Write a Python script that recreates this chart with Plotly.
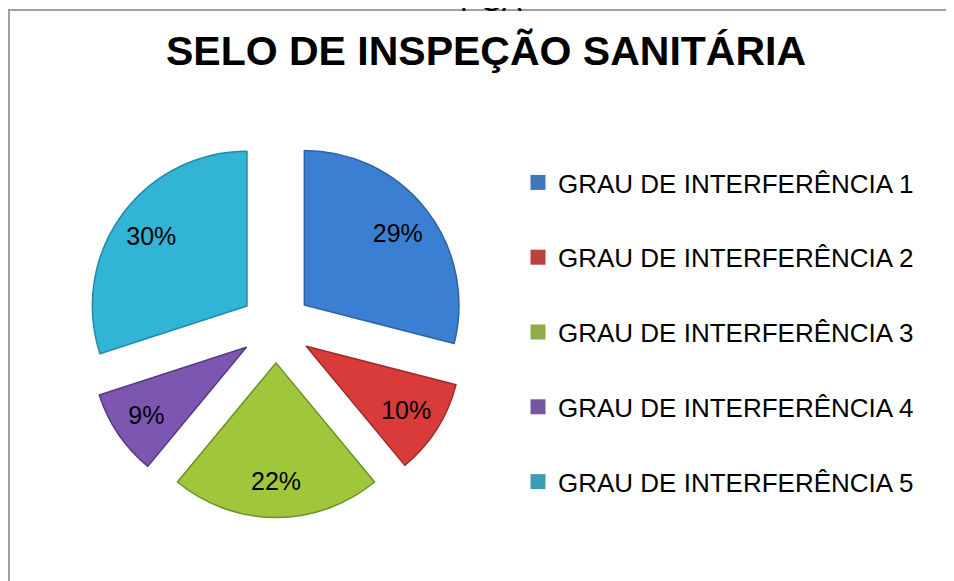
import plotly.graph_objects as go

categories = ["GRAU DE INTERFERÊNCIA 1", "GRAU DE INTERFERÊNCIA 2", "GRAU DE INTERFERÊNCIA 3",
              "GRAU DE INTERFERÊNCIA 4", "GRAU DE INTERFERÊNCIA 5"]
values = [29, 10, 22, 9, 30]
slice_colors = ["#3b7fd2", "#d93a3a", "#a0c63c", "#7d56b1", "#31b4d6"]
edge_colors = ["#2d62a6", "#9c2b2b", "#6f8f2c", "#573b80", "#238aa6"]
legend_colors = ["#4277bc", "#bb4040", "#8fab4a", "#74579e", "#3d9db5"]
title_text = "SELO DE INSPEÇÃO SANITÁRIA"
top_text = "PCA"

FONT = "Liberation Sans, Arial, sans-serif"
OFF = 8                      # default page margin of the html body
W, H = 954 - OFF, 581 - OFF  # figure size that fits the window


def fx(px):
    return (px - OFF) / W


def fy(py):
    return 1 - (py - OFF) / H


pie_domain = dict(x=[fx(85.5), fx(466.5)], y=[fy(517.5), fy(136.5)])
PULL = 0.232

fig = go.Figure()
# slices
fig.add_trace(go.Pie(
    labels=categories, values=values, sort=False, direction="clockwise", rotation=0,
    pull=[PULL] * len(values),
    marker=dict(colors=slice_colors, line=dict(color=edge_colors, width=1.5)),
    textinfo="none",
    domain=pie_domain, showlegend=False, hoverinfo="label+percent",
))
# percentage labels (transparent ring so the text sits in the outer part of each slice)
fig.add_trace(go.Pie(
    labels=categories, values=values, sort=False, direction="clockwise", rotation=0,
    pull=[PULL] * len(values), hole=0.53,
    marker=dict(colors=["rgba(0,0,0,0)"] * len(values), line=dict(width=0)),
    textinfo="percent", textposition="inside", insidetextorientation="horizontal",
    textfont=dict(family=FONT, size=25, color="black"),
    domain=pie_domain, showlegend=False, hoverinfo="skip",
))

# legend entries (one per category)
for name, col in zip(categories, legend_colors):
    fig.add_trace(go.Scatter(
        x=[None], y=[None], mode="markers", name=name, legendgroup=name,
        marker=dict(symbol="square", size=15, color=col),
        hoverinfo="skip",
    ))

fig.update_layout(
    width=W, height=H,
    margin=dict(l=0, r=0, t=0, b=0),
    paper_bgcolor="white", plot_bgcolor="white",
    xaxis=dict(visible=False), yaxis=dict(visible=False),
    title=dict(text="<b>" + title_text + "</b>", x=fx(486), xanchor="center",
               y=fy(51), yanchor="middle",
               font=dict(family=FONT, size=41, color="black")),
    legend=dict(x=fx(518), xanchor="left", y=fy(159), yanchor="top",
                font=dict(family=FONT, size=26, color="black"),
                tracegroupgap=38, bgcolor="rgba(0,0,0,0)"),
    shapes=[
        dict(type="line", xref="paper", yref="paper", x0=fx(8), x1=1.01, y0=fy(10), y1=fy(10),
             line=dict(color="#a0a0a0", width=2)),
        dict(type="line", xref="paper", yref="paper", x0=fx(9), x1=fx(9), y0=fy(10), y1=-0.01,
             line=dict(color="#a0a0a0", width=2)),
    ],
    annotations=[
        dict(text=top_text, xref="paper", yref="paper", x=fx(491), y=1, xanchor="center",
             yanchor="bottom", yshift=-11, showarrow=False,
             font=dict(family=FONT, size=30, color="black")),
    ],
)

fig.write_html("out.html")
